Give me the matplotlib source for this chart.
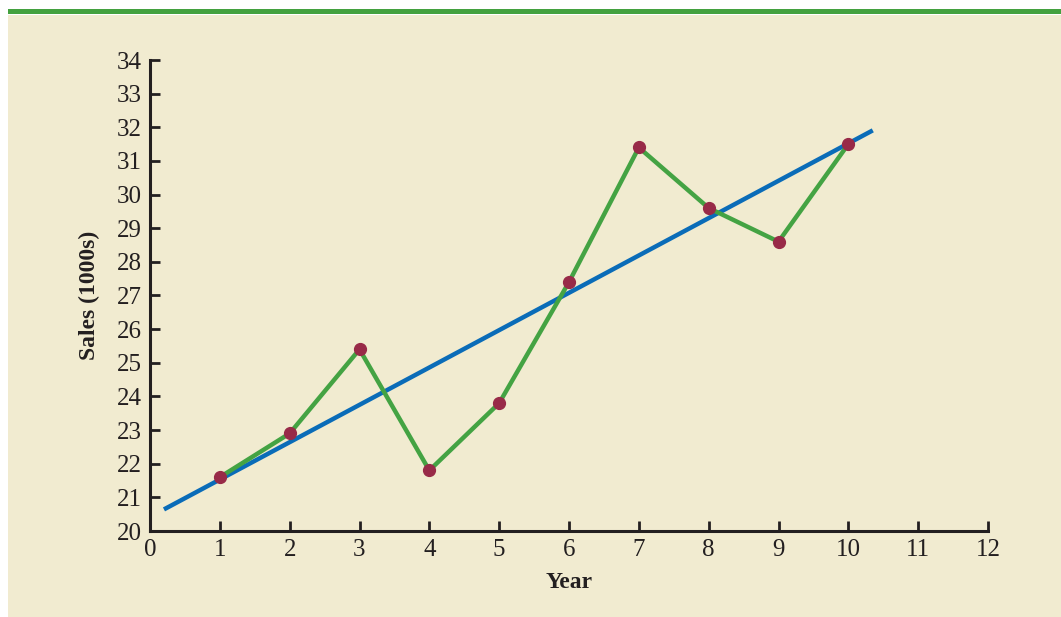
import matplotlib.pyplot as plt
import matplotlib.patches as patches
import numpy as np

plt.rcParams.update({
    'font.family': ['Liberation Serif', 'DejaVu Serif'],
    'font.size': 15,
})

# Data
years = [1, 2, 3, 4, 5, 6, 7, 8, 9, 10]
sales = [21.6, 22.9, 25.4, 21.8, 23.8, 27.4, 31.4, 29.6, 28.6, 31.5]
# trend line
trend_x = [0.2, 10.35]
trend_intercept = 20.42
trend_slope = 1.11
x_ticks = list(range(0, 13))
y_ticks = list(range(20, 35))

bg = '#f1ebd0'
ink = '#231f20'

fig = plt.figure(figsize=(10.61, 6.17), dpi=100)
fig.patch.set_facecolor('white')

# Beige panel and green header line, behind the axes
fig.add_artist(patches.Rectangle((8 / 1061, 0), 1, 1 - 15 / 617,
                                 transform=fig.transFigure, facecolor=bg,
                                 edgecolor='none', zorder=-10))
fig.add_artist(patches.Rectangle((8 / 1061, 1 - 14 / 617), 1, 5 / 617,
                                 transform=fig.transFigure, facecolor='#43a13f',
                                 edgecolor='none', zorder=-10))

ax = fig.add_axes([150 / 1061, 1 - 531 / 617, 838 / 1061, 471 / 617])
ax.patch.set_visible(False)

# Trend line
tx = np.array(trend_x)
ax.plot(tx, trend_intercept + trend_slope * tx, color='#0a6cb8', linewidth=3.2,
        zorder=2, solid_capstyle='butt')

# Time series
ax.plot(years, sales, color='#44a343', linewidth=3.2, zorder=3)
ax.plot(years, sales, linestyle='none', marker='o', markersize=8.5,
        color='#982a48', zorder=4)

ax.set_xlim(0, 12)
ax.set_ylim(20, 34)
ax.set_xticks(x_ticks)
ax.set_yticks(y_ticks)
ax.tick_params(direction='in', length=7, width=2, color=ink, labelcolor=ink,
               labelsize=18)
ax.tick_params(axis='x', pad=6)
ax.tick_params(axis='y', pad=6)

for side in ['top', 'right']:
    ax.spines[side].set_visible(False)
for side in ['left', 'bottom']:
    ax.spines[side].set_linewidth(2.2)
    ax.spines[side].set_color(ink)

ax.set_xlabel('Year', fontweight='bold', fontsize=17, color=ink, labelpad=8)
ax.set_ylabel('Sales (1000s)', fontweight='bold', fontsize=17, color=ink, labelpad=12)

plt.savefig('out.png', dpi=100, facecolor=fig.get_facecolor())
